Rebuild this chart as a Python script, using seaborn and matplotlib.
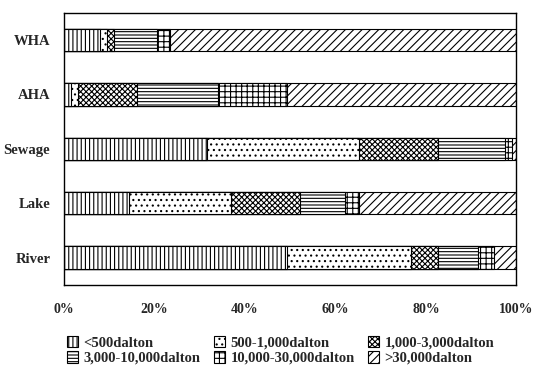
import numpy as np
import pandas as pd
import matplotlib
matplotlib.use("Agg")
import matplotlib.pyplot as plt
import seaborn as sns
from matplotlib.patches import Patch

sns.set_style("white")
plt.rcParams['font.family'] = ['Liberation Serif', 'DejaVu Serif']
plt.rcParams['font.weight'] = 'bold'
plt.rcParams['hatch.linewidth'] = 0.8

samples = ["WHA", "AHA", "Sewage", "Lake", "River"]
fractions = ["<500dalton", "500-1,000dalton", "1,000-3,000dalton",
             "3,000-10,000dalton", "10,000-30,000dalton", ">30,000dalton"]
# percentages for each fraction, in the order of samples
lt500 = [8.0, 1.5, 31.6, 14.4, 49.3]
f500_1k = [1.5, 1.5, 33.7, 22.4, 27.5]
f1k_3k = [1.5, 13.0, 17.4, 15.3, 5.9]
f3k_10k = [9.5, 18.0, 14.9, 10.1, 8.8]
f10k_30k = [2.9, 15.3, 1.5, 3.1, 3.5]
gt30k = [76.6, 50.7, 0.9, 34.7, 5.0]
hatches = ['||||', '...', 'xxxxxx', '-----', '+++', '////']

df = pd.DataFrame({"sample": samples})
cols = [lt500, f500_1k, f1k_3k, f3k_10k, f10k_30k, gt30k]
for name, vals in zip(fractions, cols):
    df[name] = vals
cum = df[fractions].cumsum(axis=1)

fig, ax = plt.subplots(figsize=(5.35, 3.65), dpi=100)
fig.subplots_adjust(left=0.12, right=0.965, top=0.965, bottom=0.22)

# draw cumulative bars from the longest to the shortest so they stack
for i in range(len(fractions) - 1, -1, -1):
    n_before = len(ax.patches)
    sns.barplot(x=cum[fractions[i]], y=df["sample"], orient='h', color='white',
                edgecolor='black', linewidth=0.8, width=0.41, ax=ax)
    for p in ax.patches[n_before:]:
        p.set_hatch(hatches[i])
        p.set_facecolor('white')

ax.set_xlim(0, 100)
ax.set_ylim(4.5, -0.5)
ax.set_xticks([0, 20, 40, 60, 80, 100])
ax.set_xticklabels(["0%", "20%", "40%", "60%", "80%", "100%"])
ax.set_xlabel("")
ax.set_ylabel("")
ax.tick_params(axis='x', length=0, pad=13, labelsize=10)
ax.tick_params(axis='y', length=0, pad=10, labelsize=10.5)
for s in ax.spines.values():
    s.set_color('black')
    s.set_linewidth(1.0)

handles = [Patch(facecolor='white', edgecolor='black', hatch=h, linewidth=0.8)
           for h in hatches]
order = [0, 3, 1, 4, 2, 5]
fig.legend([handles[k] for k in order], [fractions[k] for k in order],
           ncol=3, loc='lower left', bbox_to_anchor=(0.10, -0.036),
           frameon=False, fontsize=10.5, handlelength=0.8, handleheight=0.8,
           handletextpad=0.35, columnspacing=0.9, labelspacing=0.1)

fig.savefig("out.png", dpi=100)
